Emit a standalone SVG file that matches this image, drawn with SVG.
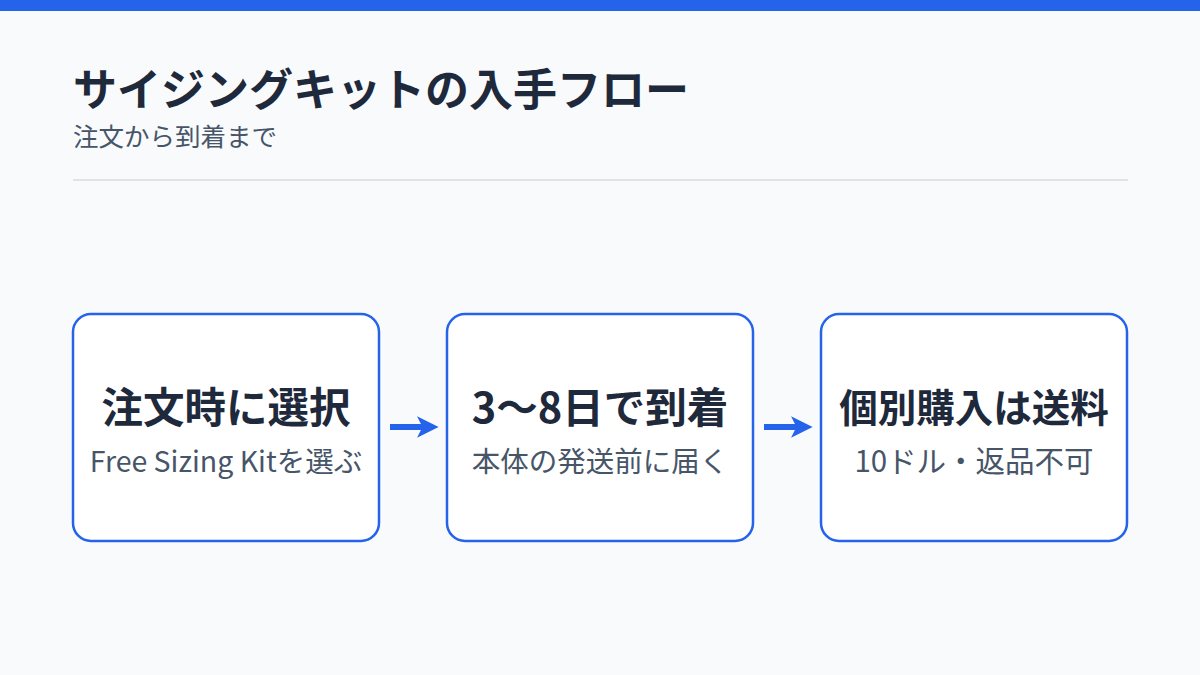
<svg xmlns="http://www.w3.org/2000/svg" width="1200" height="675" viewBox="0 0 1200 675">
<defs>
<style>
.t{font-family:"Noto Sans CJK JP","Noto Sans",sans-serif;}
.title{font-size:44px;font-weight:700;fill:#1e293b;}
.sub{font-size:25.5px;fill:#475569;}
.box{fill:#ffffff;stroke:#2563eb;stroke-width:2.5;}
.h{font-size:41.5px;font-weight:700;fill:#1e293b;text-anchor:middle;}
.d{font-size:28.5px;fill:#475569;text-anchor:middle;}
.c{stroke:#2563eb;stroke-width:6;fill:none;}
</style>
<marker id="ah" viewBox="0 0 10 10" refX="6" refY="5" markerWidth="3.6" markerHeight="3.6" orient="auto" markerUnits="strokeWidth">
<path d="M0,0 L10,5 L0,10 L2.5,5 Z" fill="#2563eb"/>
</marker>
</defs>
<rect width="1200" height="675" fill="#f8fafc"/>
<rect width="1200" height="11" fill="#2563eb"/>
<text class="t title" x="73" y="106">サイジングキットの入手フロー</text>
<text class="t sub" x="73" y="146">注文から到着まで</text>
<line x1="73" y1="180" x2="1128" y2="180" stroke="#d9dde3" stroke-width="1.5"/>
<g id="node1">
<rect class="box" x="73" y="314" width="306" height="227" rx="18"/>
<text class="t h" x="226" y="423">注文時に選択</text>
<text class="t d" x="226" y="472">Free Sizing Kitを選ぶ</text>
</g>
<g id="node2">
<rect class="box" x="447" y="314" width="306" height="227" rx="18"/>
<text class="t h" x="600" y="423">3〜8日で到着</text>
<text class="t d" x="600" y="472">本体の発送前に届く</text>
</g>
<g id="node3">
<rect class="box" x="821" y="314" width="306" height="227" rx="18"/>
<text class="t h" x="974" y="422" style="font-size:38.5px">個別購入は送料</text>
<text class="t d" x="974" y="472" style="font-size:29.5px">10ドル・返品不可</text>
</g>
<g id="connectors">
<line class="c" x1="390" y1="427" x2="430" y2="427" marker-end="url(#ah)"/>
<line class="c" x1="764" y1="427" x2="804" y2="427" marker-end="url(#ah)"/>
</g>
</svg>
